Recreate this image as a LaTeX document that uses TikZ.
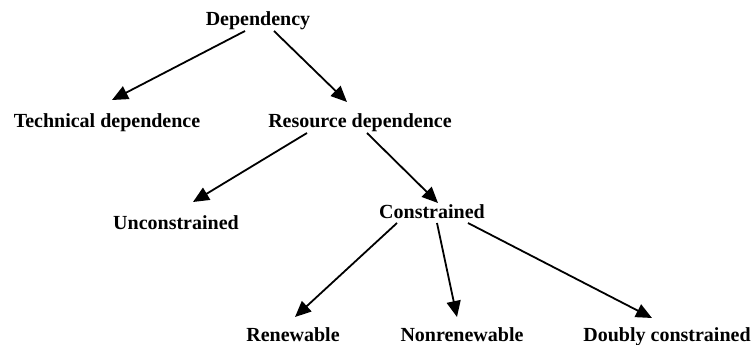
\documentclass[tikz,border=0pt]{standalone}
\usepackage{fontspec}
\setmainfont{Liberation Serif}
\usepackage{tikz}
\usetikzlibrary{arrows.meta, calc}

\begin{document}
\begin{tikzpicture}[x=1pt, y=-1pt,
    label/.style={anchor=base, inner sep=0pt, font=\bfseries\fontsize{20}{24}\selectfont},
    arr/.style={-{Triangle[length=16pt, width=14pt]}, line width=1.8pt}]
    \useasboundingbox (0,0) rectangle (753,345);

    % Nodes
    \node[label] (dep) at (258,26) {Dependency};
    \node[label] (tech) at (107,128) {Technical dependence};
    \node[label] (res) at (360,128) {Resource dependence};
    \node[label] (uncon) at (176,229) {Unconstrained};
    \node[label] (con) at (432,218) {Constrained};
    \node[label] (ren) at (293,341) {Renewable};
    \node[label] (nonren) at (462,341) {Nonrenewable};
    \node[label] (doubly) at (667,341) {Doubly constrained};

    % Arrows
    \draw[arr] ($(dep.base)+(-13,5)$) -- ($(tech.base)+(5,-28)$);
    \draw[arr] ($(dep.base)+(16,5)$) -- ($(res.base)+(-13,-26)$);
    \draw[arr] ($(res.base)+(-53,5)$) -- ($(uncon.base)+(17,-27)$);
    \draw[arr] ($(res.base)+(7,5)$) -- ($(con.base)+(6,-15)$);
    \draw[arr] ($(con.base)+(-35,5)$) -- ($(ren.base)+(2,-24)$);
    \draw[arr] ($(con.base)+(5,5)$) -- ($(nonren.base)+(-5,-24)$);
    \draw[arr] ($(con.base)+(36,5)$) -- ($(doubly.base)+(-15,-23)$);
\end{tikzpicture}
\end{document}
